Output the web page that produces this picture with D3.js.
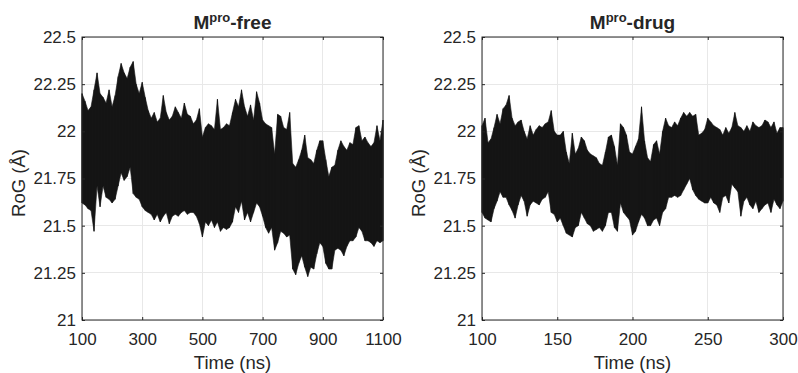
<!DOCTYPE html>
<html>
<head>
<meta charset="utf-8">
<script src="https://cdn.jsdelivr.net/npm/d3@7"></script>
<style>
  html, body { margin: 0; padding: 0; background: #ffffff; }
  svg { display: block; }
  text { font-family: "Liberation Sans", Arial, Helvetica, sans-serif; fill: #262626; }
</style>
</head>
<body>
<svg id="chart" width="798" height="373"></svg>
<script>
// ---------------- DATA ----------------
// Radius of gyration traces, read as upper / lower envelopes of the dense trajectory.
const yTickValues = [21, 21.25, 21.5, 21.75, 22, 22.25, 22.5];
const yTickLabels = ["21", "21.25", "21.5", "21.75", "22", "22.25", "22.5"];

const freeXTicks = [100, 300, 500, 700, 900, 1100];
const freeXTickLabels = ["100", "300", "500", "700", "900", "1100"];
const drugXTicks = [100, 150, 200, 250, 300];
const drugXTickLabels = ["100", "150", "200", "250", "300"];

// Mpro-free: samples every 10 ns from 100 to 1100 ns
const freeStart = 100, freeStep = 10;
const freeHi = [22.20,22.16,22.11,22.13,22.22,22.31,22.20,22.18,22.15,22.22,22.13,22.19,22.29,22.36,22.31,22.28,22.34,22.37,22.25,22.20,
  22.26,22.18,22.11,22.07,22.10,22.05,22.07,22.19,22.10,22.06,22.08,22.13,22.10,22.07,22.15,22.09,22.08,22.04,22.06,22.12,
  21.97,22.02,22.04,22.03,22.01,22.17,22.01,22.02,22.04,22.03,22.10,
  22.17,22.13,22.22,22.13,22.08,22.14,22.06,22.21,22.15,22.06,22.04,22.03,22.02,21.88,22.09,22.08,22.02,22.01,22.10,21.83,
  21.81,21.85,21.90,21.98,21.86,21.85,21.83,21.90,21.95,21.95,21.85,21.76,21.81,21.82,21.90,21.95,21.92,21.90,21.94,21.93,
  22.02,22.03,21.95,21.97,21.94,21.92,21.94,22.03,21.95,22.06];
const freeLo = [21.62,21.61,21.59,21.58,21.47,21.71,21.60,21.71,21.65,21.64,21.62,21.64,21.71,21.78,21.74,21.76,21.81,21.67,21.65,21.64,
  21.60,21.58,21.57,21.56,21.53,21.56,21.52,21.55,21.57,21.51,21.55,21.56,21.55,21.57,21.58,21.56,21.57,21.57,21.55,21.51,
  21.44,21.52,21.50,21.53,21.49,21.52,21.47,21.49,21.48,21.49,21.52,
  21.60,21.57,21.63,21.53,21.57,21.52,21.57,21.62,21.60,21.55,21.49,21.46,21.49,21.37,21.41,21.47,21.46,21.44,21.45,21.27,
  21.24,21.30,21.34,21.28,21.23,21.28,21.27,21.35,21.41,21.39,21.30,21.27,21.27,21.37,21.38,21.37,21.34,21.39,21.42,21.42,
  21.44,21.49,21.47,21.42,21.42,21.41,21.39,21.42,21.41,21.42];

// Mpro-drug: samples every 2 ns from 100 to 300 ns
const drugStart = 100, drugStep = 2;
const drugHi = [22.03,22.07,21.94,21.96,22.02,22.09,22.04,22.12,22.14,22.19,22.07,22.03,22.05,22.06,22.00,21.96,22.03,21.98,22.01,22.03,
  22.02,22.04,22.05,22.11,22.00,21.98,21.98,22.00,21.89,21.83,21.99,21.88,21.91,21.97,21.95,21.90,21.88,21.87,21.86,21.83,
  21.82,21.89,21.97,21.98,21.92,21.82,22.04,22.02,21.98,21.89,21.88,
  21.92,21.96,22.13,21.95,21.86,21.84,21.93,21.95,21.88,22.00,22.07,22.03,22.02,22.05,22.03,22.07,22.10,22.08,22.10,22.08,
  22.09,21.98,21.99,22.01,22.07,22.05,22.03,22.02,22.01,21.98,22.02,21.99,22.02,22.10,22.03,22.02,22.00,22.03,22.00,22.05,
  22.03,22.02,22.03,22.06,22.05,22.02,22.05,21.99,22.02,22.02];
const drugLo = [21.57,21.54,21.53,21.52,21.59,21.63,21.68,21.65,21.65,21.61,21.58,21.54,21.61,21.66,21.63,21.55,21.61,21.63,21.62,21.61,
  21.64,21.65,21.68,21.57,21.56,21.52,21.54,21.50,21.46,21.45,21.44,21.49,21.50,21.57,21.54,21.51,21.50,21.47,21.48,21.49,
  21.47,21.50,21.57,21.57,21.49,21.47,21.62,21.57,21.55,21.53,21.45,
  21.47,21.52,21.56,21.54,21.50,21.50,21.53,21.54,21.50,21.57,21.59,21.65,21.65,21.66,21.65,21.66,21.69,21.72,21.75,21.69,
  21.66,21.64,21.63,21.62,21.62,21.65,21.62,21.61,21.57,21.65,21.66,21.62,21.72,21.70,21.68,21.55,21.63,21.65,21.61,21.59,
  21.63,21.57,21.59,21.61,21.62,21.57,21.64,21.61,21.59,21.63];

const panels = [
  { titleMain: "M", titleSup: "pro", titleRest: "-free", x0: 82, x1: 383, domain: [100, 1100],
    ticks: freeXTicks, tickLabels: freeXTickLabels, start: freeStart, step: freeStep, hi: freeHi, lo: freeLo, ylabelX: 25 },
  { titleMain: "M", titleSup: "pro", titleRest: "-drug", x0: 482, x1: 783, domain: [100, 300],
    ticks: drugXTicks, tickLabels: drugXTickLabels, start: drugStart, step: drugStep, hi: drugHi, lo: drugLo, ylabelX: 425 }
];

// ---------------- DRAW ----------------
const svg = d3.select("#chart");
svg.append("rect").attr("width", 798).attr("height", 373).attr("fill", "#ffffff");

const yTop = 37, yBot = 320;
const y = d3.scaleLinear().domain([21, 22.5]).range([yBot, yTop]);
const ink = "#151515";
const axisCol = "#262626";
const gridCol = "#e8e8e8";

panels.forEach(p => {
  const x = d3.scaleLinear().domain(p.domain).range([p.x0, p.x1]);
  const g = svg.append("g");

  // grid
  g.append("g").selectAll("line").data(p.ticks).join("line")
    .attr("x1", d => x(d)).attr("x2", d => x(d)).attr("y1", yTop).attr("y2", yBot)
    .attr("stroke", gridCol).attr("stroke-width", 1).attr("shape-rendering", "crispEdges");
  g.append("g").selectAll("line").data(yTickValues).join("line")
    .attr("x1", p.x0).attr("x2", p.x1).attr("y1", d => y(d)).attr("y2", d => y(d))
    .attr("stroke", gridCol).attr("stroke-width", 1).attr("shape-rendering", "crispEdges");

  // data: band between the envelopes, drawn as a dense trace
  const pts = p.hi.map((h, i) => ({ t: p.start + i * p.step, hi: h, lo: p.lo[i] }));
  const area = d3.area().x(d => x(d.t)).y0(d => y(d.lo)).y1(d => y(d.hi));
  g.append("path").datum(pts).attr("d", area).attr("fill", ink).attr("stroke", ink).attr("stroke-width", 0.6);
  g.append("g").selectAll("line").data(pts).join("line")
    .attr("x1", d => x(d.t)).attr("x2", d => x(d.t))
    .attr("y1", d => y(d.hi)).attr("y2", d => y(d.lo))
    .attr("stroke", ink).attr("stroke-width", 1);

  // axes
  const fmtX = d => p.tickLabels[p.ticks.indexOf(d)];
  const fmtY = d => yTickLabels[yTickValues.indexOf(d)];

  const ax = g.append("g").attr("transform", `translate(0,${yBot})`)
    .call(d3.axisBottom(x).tickValues(p.ticks).tickFormat(fmtX).tickSizeInner(-3).tickSizeOuter(0).tickPadding(13));
  const axT = g.append("g").attr("transform", `translate(0,${yTop})`)
    .call(d3.axisTop(x).tickValues(p.ticks).tickFormat("").tickSizeInner(-3).tickSizeOuter(0));
  const ay = g.append("g").attr("transform", `translate(${p.x0},0)`)
    .call(d3.axisLeft(y).tickValues(yTickValues).tickFormat(fmtY).tickSizeInner(-3).tickSizeOuter(0).tickPadding(6));
  const ayR = g.append("g").attr("transform", `translate(${p.x1},0)`)
    .call(d3.axisRight(y).tickValues(yTickValues).tickFormat("").tickSizeInner(-3).tickSizeOuter(0));

  [ax, axT, ay, ayR].forEach(a => {
    a.select(".domain").remove();
    a.selectAll(".tick line").attr("stroke", axisCol);
    a.selectAll("text").attr("fill", axisCol).style("font-size", "17px")
      .style("font-family", "'Liberation Sans', Arial, sans-serif");
  });

  // box
  g.append("rect").attr("x", p.x0).attr("y", yTop).attr("width", p.x1 - p.x0).attr("height", yBot - yTop)
    .attr("fill", "none").attr("stroke", axisCol).attr("stroke-width", 1);

  // labels
  g.append("text").attr("x", (p.x0 + p.x1) / 2).attr("y", 369).attr("text-anchor", "middle")
    .style("font-size", "18.5px").text("Time (ns)");
  g.append("text").attr("transform", `translate(${p.ylabelX},${183}) rotate(-90)`).attr("text-anchor", "middle")
    .style("font-size", "18.5px").text("RoG (Å)");

  const title = g.append("text").attr("x", (p.x0 + p.x1) / 2).attr("y", 29).attr("text-anchor", "middle")
    .style("font-size", "19px").style("font-weight", "bold");
  title.append("tspan").text(p.titleMain);
  title.append("tspan").attr("dy", -7).style("font-size", "13px").text(p.titleSup);
  title.append("tspan").attr("dy", 7).text(p.titleRest);
});
</script>
</body>
</html>
